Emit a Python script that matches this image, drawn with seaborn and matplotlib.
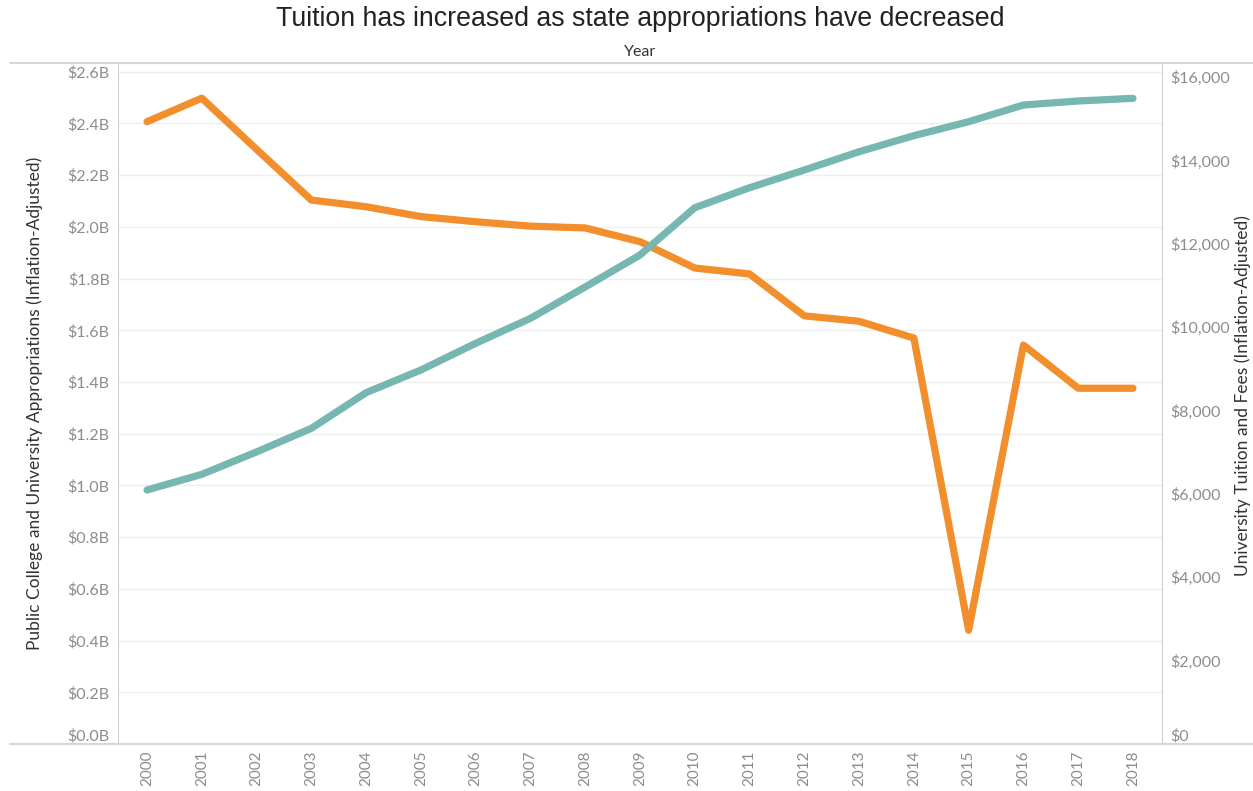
import matplotlib
matplotlib.use("Agg")
import matplotlib.pyplot as plt
import seaborn as sns
from matplotlib.lines import Line2D
from matplotlib.ticker import FixedLocator, FuncFormatter

# data
years = list(range(2000, 2019))
appropriations_b = [2.407, 2.498, 2.30, 2.104, 2.078, 2.04, 2.02, 2.003, 1.996, 1.943,
                    1.841, 1.818, 1.656, 1.635, 1.570, 0.44, 1.543, 1.376, 1.376]
tuition = [6096, 6472, 7010, 7576, 8432, 8976, 9616, 10216, 10970, 11736,
           12871, 13351, 13776, 14215, 14600, 14935, 15336, 15432, 15496]
left_ticks = [0.0, 0.2, 0.4, 0.6, 0.8, 1.0, 1.2, 1.4, 1.6, 1.8, 2.0, 2.2, 2.4, 2.6]
right_ticks = [0, 2000, 4000, 6000, 8000, 10000, 12000, 14000, 16000]

sns.set_style("white")
plt.rcParams['font.family'] = ['Lato', 'DejaVu Sans']

orange = "#F28E2B"
teal = "#76B7B2"
tick_grey = "#8c8c8c"
line_grey = "#d0d0d0"

fig = plt.figure(figsize=(12.53, 7.91), dpi=100)
ax = fig.add_axes([118 / 1253, 47 / 791, 1044 / 1253, 681 / 791])
ax2 = ax.twinx()

sns.lineplot(x=years, y=appropriations_b, ax=ax, color=orange, linewidth=5.2,
             solid_capstyle="round", solid_joinstyle="round")
sns.lineplot(x=years, y=tuition, ax=ax2, color=teal, linewidth=5.2,
             solid_capstyle="round", solid_joinstyle="round")

ax.set_xlim(1999.47, 2018.53)
ax.set_ylim(0, 2.634)
ax2.set_ylim(0, 16344)

ax.set_xticks(years)
ax.set_xticklabels([str(y) for y in years], rotation=90, color=tick_grey, fontsize=11)
ax.yaxis.set_major_locator(FixedLocator(left_ticks))
ax.yaxis.set_major_formatter(FuncFormatter(lambda v, p: f"${v:.1f}B"))
ax2.yaxis.set_major_locator(FixedLocator(right_ticks))
ax2.yaxis.set_major_formatter(FuncFormatter(lambda v, p: f"${v:,.0f}"))

ax.tick_params(axis="both", length=0, labelsize=11.5, labelcolor=tick_grey)
ax.tick_params(axis="y", pad=6)
ax.tick_params(axis="x", pad=5, labelsize=11)
ax2.tick_params(axis="y", length=0, labelsize=11.5, labelcolor=tick_grey, pad=6)

ax.grid(axis="y", color="#eeeeee", linewidth=1)
ax.grid(axis="x", visible=False)
ax2.grid(False)

for a in (ax, ax2):
    for s in a.spines.values():
        s.set_visible(False)
ax.spines["left"].set_visible(True)
ax.spines["left"].set_color(line_grey)
ax2.spines["right"].set_visible(True)
ax2.spines["right"].set_color(line_grey)

# keep the zero labels above the baseline, as in the original
ax.get_yticklabels()[0].set_va("bottom")
ax2.get_yticklabels()[0].set_va("bottom")

ax.set_xlabel("")
ax.set_ylabel("Public College and University Appropriations (Inflation-Adjusted)",
              fontsize=12.5, color="#333333", labelpad=18)
ax2.set_ylabel("")
fig.text(1243 / 1253, 0.5, "University Tuition and Fees (Inflation-Adjusted)",
         rotation=90, ha="center", va="center", fontsize=12.5, color="#333333")

# header and frame lines spanning the whole width
fig.add_artist(Line2D([10 / 1253, 1.0], [728 / 791, 728 / 791], color="#d6d6d6", linewidth=1.5))
fig.add_artist(Line2D([10 / 1253, 1.0], [47 / 791, 47 / 791], color="#d6d6d6", linewidth=1.5))

fig.text(640 / 1253, 1 - 52 / 791, "Year", ha="center", va="center", fontsize=11.5, color="#333333")
fig.text(640 / 1253, 1 - 19 / 791, "Tuition has increased as state appropriations have decreased",
         ha="center", va="center", fontsize=19.3, color="#222222", family="Liberation Sans")

fig.savefig("out.png", dpi=100)
